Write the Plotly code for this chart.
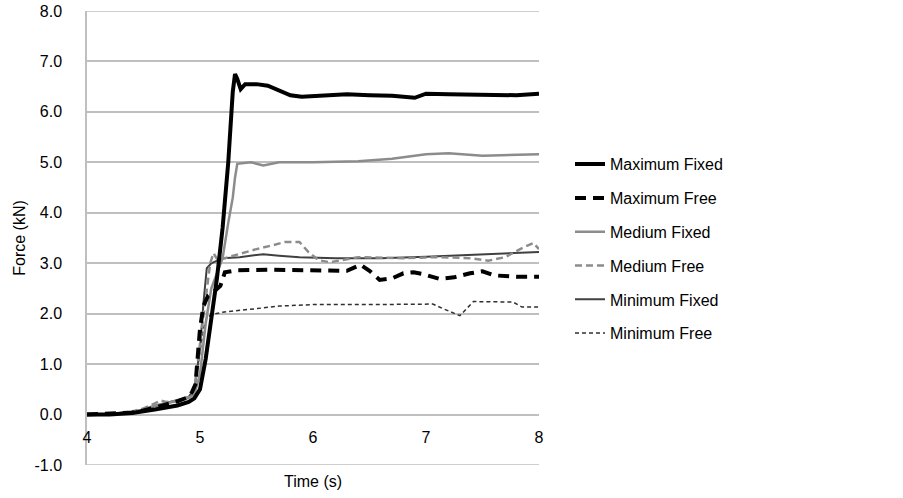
import plotly.graph_objects as go

# ---------------- data ----------------
max_fixed_t = [4.0, 4.2, 4.4, 4.5, 4.6, 4.7, 4.8, 4.9, 4.95, 5.0, 5.05, 5.1, 5.15, 5.2, 5.25, 5.29, 5.31, 5.33, 5.36,
               5.4, 5.5, 5.6, 5.7, 5.8, 5.9, 6.0, 6.1, 6.3, 6.5, 6.7, 6.9, 7.0, 7.2, 7.5, 7.8, 8.0]
max_fixed_f = [0.0, 0.0, 0.03, 0.06, 0.1, 0.14, 0.18, 0.25, 0.32, 0.5, 1.1, 1.9, 2.7, 3.7, 5.0, 6.4, 6.75, 6.65, 6.45,
               6.55, 6.55, 6.52, 6.42, 6.33, 6.3, 6.31, 6.31, 6.35, 6.33, 6.32, 6.28, 6.36, 6.35, 6.34, 6.33, 6.36]

max_free_t = [4.0, 4.2, 4.4, 4.5, 4.6, 4.7, 4.8, 4.9, 4.93, 4.96, 4.98, 5.0, 5.03, 5.07, 5.12, 5.18, 5.22, 5.33,
              5.6, 6.0, 6.3, 6.42, 6.5, 6.59, 6.7, 6.8, 6.89, 6.98, 7.12, 7.25, 7.39, 7.5, 7.6, 7.8, 8.0]
max_free_f = [0.0, 0.01, 0.04, 0.08, 0.14, 0.2, 0.26, 0.35, 0.45, 0.6, 1.15, 1.7, 2.15, 2.35, 2.43, 2.55, 2.82, 2.86,
              2.87, 2.85, 2.85, 2.97, 2.85, 2.67, 2.7, 2.8, 2.82, 2.78, 2.69, 2.72, 2.8, 2.84, 2.76, 2.73, 2.73]

med_fixed_t = [4.0, 4.2, 4.4, 4.5, 4.6, 4.7, 4.8, 4.9, 4.95, 5.0, 5.05, 5.1, 5.15, 5.2, 5.25, 5.29, 5.31, 5.33,
               5.45, 5.56, 5.7, 6.0, 6.4, 6.7, 7.0, 7.2, 7.5, 7.8, 8.0]
med_fixed_f = [0.0, 0.01, 0.05, 0.1, 0.18, 0.22, 0.27, 0.33, 0.4, 0.8, 1.8, 2.5, 2.8, 3.1, 3.8, 4.3, 4.7, 4.97,
               5.0, 4.94, 5.0, 5.0, 5.02, 5.07, 5.16, 5.18, 5.13, 5.14, 5.16]

med_free_t = [4.0, 4.2, 4.4, 4.5, 4.6, 4.65, 4.7, 4.8, 4.9, 4.95, 5.0, 5.05, 5.09, 5.12, 5.16, 5.22, 5.3, 5.4,
              5.5, 5.65, 5.75, 5.88, 5.96, 6.05, 6.15, 6.4, 6.8, 7.1, 7.4, 7.55, 7.7, 7.85, 7.95, 8.0]
med_free_f = [0.0, 0.01, 0.06, 0.12, 0.22, 0.28, 0.25, 0.27, 0.35, 0.5, 1.4, 2.3, 3.0, 3.2, 3.05, 3.1, 3.15, 3.22,
              3.28, 3.36, 3.42, 3.42, 3.22, 3.06, 3.02, 3.12, 3.1, 3.12, 3.1, 3.05, 3.12, 3.3, 3.4, 3.28]

min_fixed_t = [4.0, 4.2, 4.4, 4.5, 4.6, 4.7, 4.8, 4.9, 4.95, 5.0, 5.03, 5.06, 5.1, 5.2, 5.35, 5.56, 5.7, 5.88,
               6.2, 6.6, 7.0, 7.5, 8.0]
min_fixed_f = [0.0, 0.01, 0.05, 0.1, 0.17, 0.23, 0.28, 0.35, 0.5, 1.3, 2.2, 2.9, 3.0, 3.1, 3.12, 3.18, 3.15, 3.12,
               3.1, 3.1, 3.13, 3.18, 3.22]

min_free_t = [4.0, 4.2, 4.4, 4.5, 4.6, 4.7, 4.8, 4.9, 4.95, 5.0, 5.03, 5.06, 5.1, 5.2, 5.3, 5.5, 5.7, 6.0, 6.5,
              7.06, 7.15, 7.3, 7.42, 7.6, 7.77, 7.85, 8.0]
min_free_f = [0.0, 0.01, 0.04, 0.09, 0.16, 0.22, 0.27, 0.34, 0.5, 1.2, 1.7, 1.92, 1.98, 2.03, 2.05, 2.1, 2.15, 2.18, 2.18,
              2.19, 2.1, 1.96, 2.24, 2.23, 2.23, 2.13, 2.13]

series_names = ["Maximum Fixed", "Maximum Free", "Medium Fixed", "Medium Free", "Minimum Fixed", "Minimum Free"]
x_ticks = [4, 5, 6, 7, 8]
x_tick_labels = ["4", "5", "6", "7", "8"]
y_ticks = [-1, 0, 1, 2, 3, 4, 5, 6, 7, 8]
y_tick_labels = ["-1.0", "0.0", "1.0", "2.0", "3.0", "4.0", "5.0", "6.0", "7.0", "8.0"]

# ---------------- styles ----------------
styles = [
    dict(color="#000000", width=4, dash="solid"),
    dict(color="#000000", width=4, dash="11px,7px"),
    dict(color="#8c8c8c", width=2.5, dash="solid"),
    dict(color="#8c8c8c", width=2.5, dash="7px,4px"),
    dict(color="#404040", width=2, dash="solid"),
    dict(color="#303030", width=1.5, dash="4px,3px"),
]
data_t = [max_fixed_t, max_free_t, med_fixed_t, med_free_t, min_fixed_t, min_free_t]
data_f = [max_fixed_f, max_free_f, med_fixed_f, med_free_f, min_fixed_f, min_free_f]

FONT = "Liberation Sans, Arial, sans-serif"
GRID = "#bfbfbf"
fig = go.Figure()
# draw order: lighter first, heavier on top
order = [5, 4, 3, 2, 1, 0]
for i in order:
    fig.add_trace(go.Scatter(
        x=data_t[i], y=data_f[i], mode="lines", name=series_names[i],
        line=dict(color=styles[i]["color"], width=styles[i]["width"], dash=styles[i]["dash"]),
        legendgroup=series_names[i], legendrank=i + 1,
    ))

ymin, ymax = -1, 8
fig.update_layout(
    width=903, height=498,
    margin=dict(l=87, r=364, t=11, b=33, autoexpand=False),
    paper_bgcolor="white", plot_bgcolor="white",
    font=dict(family=FONT, size=16, color="#000000"),
    showlegend=True,
    legend=dict(x=1.0686, y=0.70, xanchor="left", yanchor="top",
                font=dict(family=FONT, size=16, color="#000000"),
                tracegroupgap=10, bgcolor="rgba(0,0,0,0)"),
    xaxis=dict(range=[4, 8], tickvals=x_ticks, ticktext=x_tick_labels,
               showgrid=False, zeroline=False, showline=False,
               anchor="free", position=(0 - ymin) / (ymax - ymin),
               ticks="", ticklabelstandoff=11, automargin=False,
               ticklabeloverflow="allow",
               tickfont=dict(family=FONT, size=16, color="#000000")),
    yaxis=dict(range=[ymin, ymax], tickvals=y_ticks, ticktext=y_tick_labels,
               showgrid=True, gridcolor=GRID, gridwidth=1.5,
               zeroline=False, showline=True, linecolor=GRID, linewidth=1.5,
               ticks="", ticklabelstandoff=20, automargin=False,
               ticklabeloverflow="allow",
               tickfont=dict(family=FONT, size=16, color="#000000"),
               title=dict(text="Force (kN)", standoff=5,
                          font=dict(family=FONT, size=16, color="#000000"))),
)
# top and bottom border lines of the plot area (range edges)
for yv in (ymin, ymax):
    fig.add_hline(y=yv, line=dict(color=GRID, width=1.5), layer="below")
fig.add_annotation(text="Time (s)", xref="paper", yref="paper", x=0.5, y=0,
                   yshift=-6, yanchor="top", showarrow=False,
                   font=dict(family=FONT, size=16, color="#000000"))
fig.write_html("out.html", config={"displayModeBar": False},
               post_script="document.body.style.margin='0';document.body.style.padding='0';")
